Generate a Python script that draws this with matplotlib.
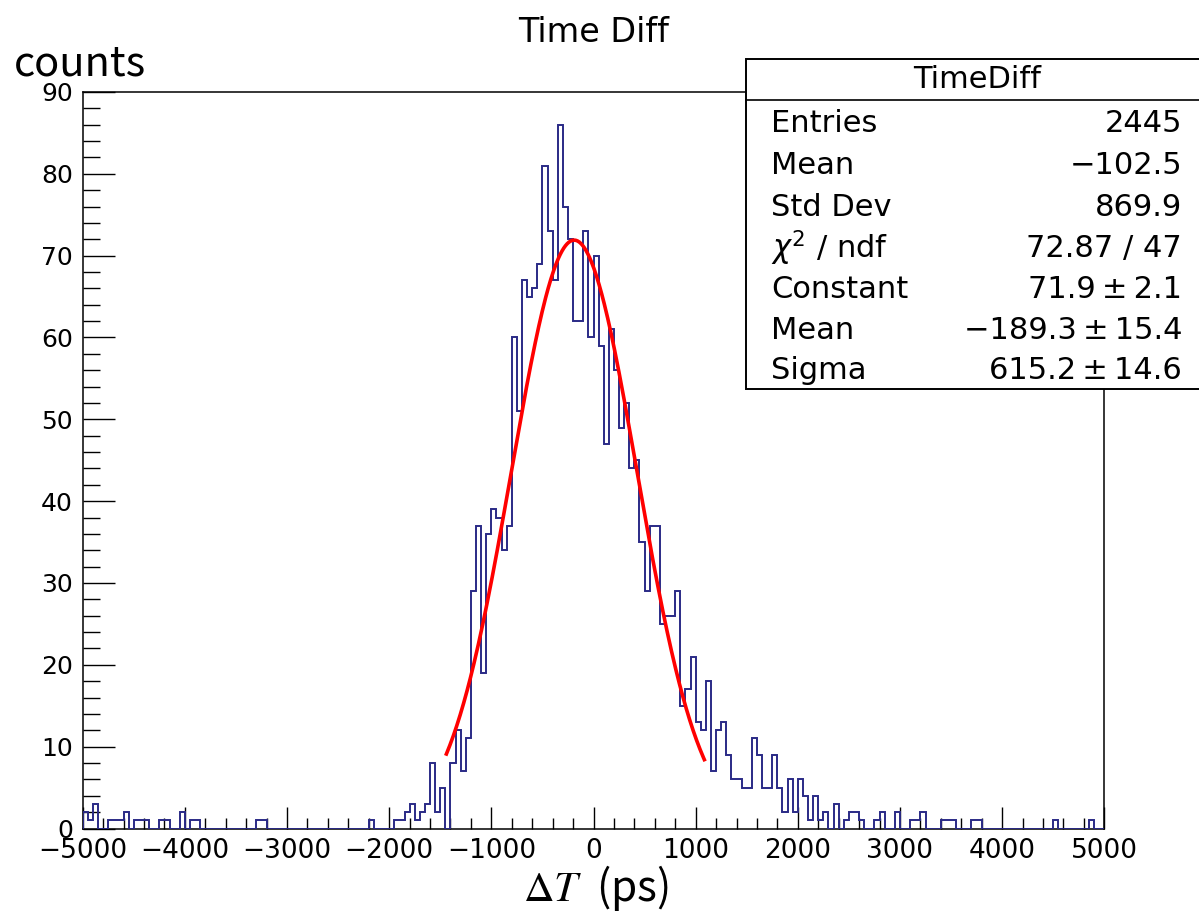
import numpy as np
import matplotlib
matplotlib.use('Agg')
import matplotlib.pyplot as plt
from matplotlib.patches import Rectangle
from matplotlib.ticker import MultipleLocator

# 200 bins of 50 ps from -5000 to 5000
X_MIN, X_MAX, N_BINS = -5000, 5000, 200
COUNTS = [
    2, 1, 3, 0, 0, 1, 1, 1, 2, 0,
    1, 1, 1, 0, 0, 1, 1, 0, 0, 2,
    0, 1, 1, 0, 0, 0, 0, 0, 0, 0,
    0, 0, 0, 0, 1, 1, 0, 0, 0, 0,
    0, 0, 0, 0, 0, 0, 0, 0, 0, 0,
    0, 0, 0, 0, 0, 0, 1, 0, 0, 0,
    0, 1, 1, 2, 3, 1, 2, 3, 8, 2,
    5, 0, 8, 12, 7, 11, 29, 37, 19, 36,
    39, 38, 34, 37, 60, 51, 67, 65, 66, 69,
    81, 73, 67, 86, 76, 72, 62, 62, 73, 60,
    70, 59, 47, 61, 56, 49, 52, 44, 45, 35,
    29, 37, 37, 25, 26, 26, 29, 15, 17, 21,
    13, 12, 18, 7, 12, 13, 9, 6, 6, 5,
    5, 11, 9, 5, 5, 9, 5, 2, 6, 2,
    6, 4, 1, 4, 1, 2, 0, 3, 0, 1,
    2, 2, 1, 0, 0, 1, 2, 0, 0, 2,
    0, 0, 1, 1, 2, 0, 0, 0, 1, 1,
    1, 0, 0, 0, 1, 1, 0, 0, 0, 0,
    0, 0, 0, 0, 0, 0, 0, 0, 0, 0,
    1, 0, 0, 0, 0, 0, 0, 1, 0, 0,
]

# gaussian fit shown in the stat box
FIT_CONST, FIT_MEAN, FIT_SIGMA = 71.9, -189.3, 615.2
FIT_RANGE = (-1440, 1085)

STAT_LABELS = ['Entries', 'Mean', 'Std Dev', r'$\chi^{2}$ / ndf',
               'Constant', 'Mean', 'Sigma']
STAT_VALUES = ['2445', '\u2212102.5', '869.9', '72.87 / 47',
               '71.9\u2009\u00b1\u20092.1', '\u2212189.3\u2009\u00b1\u200915.4',
               '615.2\u2009\u00b1\u200914.6']

C_HIST = '#2a2a86'
C_FIT = '#ff0000'
W, H = 1199, 913

plt.rcParams.update({
    'font.family': 'DejaVu Sans',
    'mathtext.fontset': 'dejavusans',
    'axes.linewidth': 1.1,
})


def fx(px):
    return px / W


def fy(py):
    return 1 - py / H


fig = plt.figure(figsize=(W / 100, H / 100), dpi=100, facecolor='white')
ax = fig.add_axes([fx(82.7), fy(828.5), fx(1104.3) - fx(82.7), fy(92) - fy(828.5)])

edges = np.linspace(X_MIN, X_MAX, N_BINS + 1)
ax.stairs(COUNTS, edges, color=C_HIST, lw=1.4, zorder=3)

xf = np.linspace(FIT_RANGE[0], FIT_RANGE[1], 300)
yf = FIT_CONST * np.exp(-0.5 * ((xf - FIT_MEAN) / FIT_SIGMA) ** 2)
ax.plot(xf, yf, color=C_FIT, lw=2.6, zorder=4)

ax.set_xlim(X_MIN, X_MAX)
ax.set_ylim(0, 90)
ax.xaxis.set_major_locator(MultipleLocator(1000))
ax.xaxis.set_minor_locator(MultipleLocator(200))
ax.yaxis.set_major_locator(MultipleLocator(10))
ax.yaxis.set_minor_locator(MultipleLocator(2))
ax.tick_params(axis='x', which='major', direction='in', length=15.8, width=1.0,
               labelsize=19, pad=6.5)
ax.tick_params(axis='x', which='minor', direction='in', length=7.9, width=1.0)
ax.tick_params(axis='y', which='major', direction='in', length=22.8, width=1.0,
               labelsize=18, pad=7)
ax.tick_params(axis='y', which='minor', direction='in', length=12.2, width=1.0)

fig.text(fx(594), fy(32), 'Time Diff', ha='center', va='center', fontsize=24)

# axis labels added in another font
fig.text(fx(14), fy(64), 'counts', ha='left', va='center', fontsize=30,
         family=['Noto Sans CJK SC', 'DejaVu Sans'])
fig.text(fx(596), fy(888), r'$\Delta\mathit{T}$  (ps)', ha='center', va='center',
         fontsize=30.5, family=['Noto Sans CJK SC', 'DejaVu Sans'],
         math_fontfamily='stix')

# stat box
box = Rectangle((fx(746), fy(389)), fx(1215) - fx(746), fy(59) - fy(389),
                transform=fig.transFigure, facecolor='white', edgecolor='black',
                lw=1.4, zorder=5)
fig.patches.append(box)
fig.add_artist(plt.Line2D([fx(746), fx(1215)], [fy(100), fy(100)],
                          transform=fig.transFigure, color='black', lw=1.2, zorder=6))
fig.text(fx(977), fy(80), 'TimeDiff', ha='center', va='center', fontsize=22, zorder=7)
row_y = [123, 165, 207, 248, 289, 330, 370]
for lbl, val, py in zip(STAT_LABELS, STAT_VALUES, row_y):
    fig.text(fx(771), fy(py), lbl, ha='left', va='center', fontsize=22, zorder=7)
    fig.text(fx(1182), fy(py), val, ha='right', va='center', fontsize=22, zorder=7)

fig.savefig('out.png', dpi=100, facecolor='white')
